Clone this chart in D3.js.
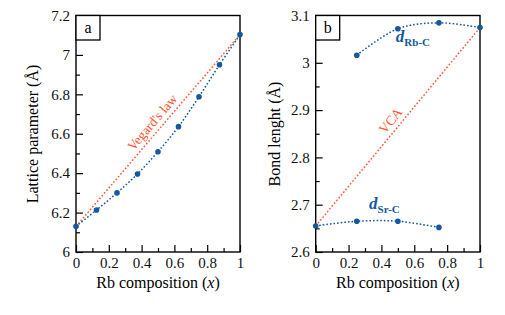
<!DOCTYPE html>
<html><head><meta charset="utf-8">
<script src="https://cdn.jsdelivr.net/npm/d3@7"></script>
<style>body{margin:0;background:#fff}svg{display:block}</style>
</head><body><svg id="c" width="505" height="315"></svg>
<script>
const xComp = [0, 0.125, 0.25, 0.375, 0.5, 0.625, 0.75, 0.875, 1];
const lattice = [6.13, 6.213, 6.30, 6.396, 6.509, 6.636, 6.788, 6.95, 7.103];
const vegardX = [0, 1];
const vegardY = [6.13, 7.103];
const xRbC = [0.25, 0.5, 0.75, 1];
const dRbC = [3.016, 3.072, 3.0845, 3.0746];
const xSrC = [0, 0.25, 0.5, 0.75];
const dSrC = [2.655, 2.665, 2.665, 2.652];
const vcaX = [0, 1];
const vcaY = [2.655, 3.0746];
const xTicks = [0, 0.2, 0.4, 0.6, 0.8, 1];
const yTicksA = [6, 6.2, 6.4, 6.6, 6.8, 7, 7.2];
const yTicksB = [2.6, 2.7, 2.8, 2.9, 3, 3.1];

const BLUE = "#16589e", ORANGE = "#ff5533";
const FONT = "'Liberation Serif', 'Times New Roman', serif";
const svg = d3.select("#c");
const fmt = d => String(+d.toFixed(2));

function panel(opt) {
  const x = d3.scaleLinear().domain([0, 1]).range([opt.left, opt.right]);
  const y = d3.scaleLinear().domain(opt.yDomain).range([252, 15.5]);
  const g = svg.append("g");
  const xa = d3.axisBottom(x).tickValues(xTicks).tickFormat(fmt).tickSizeInner(-7).tickSizeOuter(0).tickPadding(5);
  const xm = d3.axisBottom(x).tickValues(d3.range(0.1, 1, 0.2)).tickFormat("").tickSizeInner(-4).tickSizeOuter(0);
  const ya = d3.axisLeft(y).tickValues(opt.yTicks).tickFormat(fmt).tickSizeInner(-7).tickSizeOuter(0).tickPadding(6);
  const minorY = opt.yTicks.slice(0, -1).map((v, i) => (v + opt.yTicks[i + 1]) / 2);
  const ym = d3.axisLeft(y).tickValues(minorY).tickFormat("").tickSizeInner(-4).tickSizeOuter(0);
  [[xa, "translate(0,252)"], [xm, "translate(0,252)"], [ya, `translate(${opt.left},0)`], [ym, `translate(${opt.left},0)`]].forEach(([ax, tr]) => {
    const a = g.append("g").attr("transform", tr).call(ax);
    a.select(".domain").remove();
    a.selectAll("line").attr("stroke", "#000").attr("stroke-width", 1.2);
    a.selectAll("text").style("font-family", FONT).style("font-size", "15px").attr("fill", "#111");
  });
  g.append("rect").attr("x", opt.left).attr("y", 15.5).attr("width", opt.right - opt.left).attr("height", 252 - 15.5)
    .attr("fill", "none").attr("stroke", "#000").attr("stroke-width", 1.4);
  g.append("rect").attr("x", opt.left).attr("y", 15.5).attr("width", 24).attr("height", 24.5)
    .attr("fill", "#fff").attr("stroke", "#000").attr("stroke-width", 1.3);
  g.append("text").attr("x", opt.left + 12).attr("y", 33).attr("text-anchor", "middle")
    .style("font-family", FONT).style("font-size", "16px").text(opt.letter);
  g.append("text").attr("x", (opt.left + opt.right) / 2).attr("y", 288).attr("text-anchor", "middle")
    .style("font-family", FONT).style("font-size", "16px")
    .html('Rb composition (<tspan font-style="italic">x</tspan>)');
  g.append("text").attr("transform", `translate(${opt.ytx},${opt.yty}) rotate(-90)`).attr("text-anchor", "middle")
    .style("font-family", FONT).style("font-size", "16px").text(opt.ytitle);
  return {x, y, g};
}

function series(p, xs, ys, color, curve, dots) {
  const line = d3.line().x((d, i) => p.x(xs[i])).y(d => p.y(d)).curve(curve);
  p.g.append("path").attr("d", line(ys)).attr("fill", "none").attr("stroke", color)
    .attr("stroke-width", 1.5).attr("stroke-dasharray", "1.6,2");
  if (dots) p.g.selectAll(null).data(ys).enter().append("circle")
    .attr("cx", (d, i) => p.x(xs[i])).attr("cy", d => p.y(d)).attr("r", 2.8).attr("fill", color);
}

function rotLabel(p, xs, ys, t, off, txt, size) {
  const x0 = p.x(xs[0]), y0 = p.y(ys[0]), x1 = p.x(xs[1]), y1 = p.y(ys[1]);
  const ang = Math.atan2(y1 - y0, x1 - x0) * 180 / Math.PI;
  const px = x0 + (x1 - x0) * t, py = y0 + (y1 - y0) * t;
  p.g.append("text").attr("transform", `translate(${px},${py}) rotate(${ang}) translate(0,${-off})`)
    .attr("text-anchor", "middle").style("font-family", FONT).style("font-size", size + "px").attr("fill", ORANGE).text(txt);
}

const pa = panel({left: 76, right: 240, yDomain: [6, 7.2], yTicks: yTicksA, letter: "a",
  ytitle: "Lattice parameter (Å)", ytx: 38, yty: 134});
series(pa, vegardX, vegardY, ORANGE, d3.curveLinear, false);
series(pa, xComp, lattice, BLUE, d3.curveCatmullRom, true);
rotLabel(pa, vegardX, vegardY, 0.51, 5, "Vegard's law", 13.5);

const pb = panel({left: 315.7, right: 480, yDomain: [2.6, 3.1], yTicks: yTicksB, letter: "b",
  ytitle: "Bond lenght (Å)", ytx: 280, yty: 134});
series(pb, vcaX, vcaY, ORANGE, d3.curveLinear, false);
series(pb, xRbC, dRbC, BLUE, d3.curveCatmullRom, true);
series(pb, xSrC, dSrC, BLUE, d3.curveCatmullRom, true);
rotLabel(pb, vcaX, vcaY, 0.50, 5, "VCA", 13.5);

pb.g.append("text").attr("x", pb.x(0.5) - 2).attr("y", pb.y(3.072) + 13).attr("fill", BLUE)
  .style("font-family", FONT).style("font-size", "17px")
  .html('<tspan font-style="italic" font-weight="bold">d</tspan><tspan font-size="11" font-weight="bold" dy="4">Rb-C</tspan>');
pb.g.append("text").attr("x", pb.x(0.325)).attr("y", pb.y(2.665) - 12).attr("fill", BLUE)
  .style("font-family", FONT).style("font-size", "17px")
  .html('<tspan font-style="italic" font-weight="bold">d</tspan><tspan font-size="11" font-weight="bold" dy="4">Sr-C</tspan>');
</script></body></html>
